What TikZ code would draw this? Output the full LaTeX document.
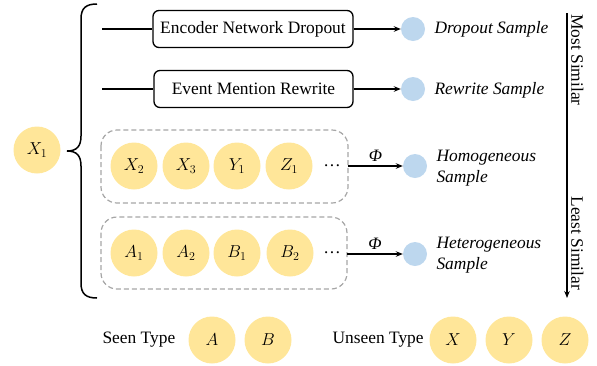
\documentclass[tikz,border=0pt]{standalone}
\usepackage{fontspec}
\setmainfont{Liberation Serif}
\usetikzlibrary{arrows.meta}
\definecolor{ycirc}{HTML}{FFE699}
\definecolor{bcirc}{HTML}{BDD7EE}
\definecolor{dgray}{HTML}{A6A6A6}
\begin{document}
\begin{tikzpicture}[x=1pt,y=-1pt,
  font=\fontsize{17.4}{21.5}\selectfont,
  ycn/.style={circle,fill=ycirc,minimum size=47pt,inner sep=0pt},
  bcn/.style={circle,fill=bcirc,minimum size=24pt,inner sep=0pt},
  opbox/.style={draw,line width=1.3pt,rounded corners=6pt,minimum height=37pt,inner sep=0pt},
  grp/.style={draw=dgray,dashed,line width=1.2pt,dash pattern=on 5pt off 3pt,rounded corners=16pt},
  arr/.style={-{Stealth[length=7pt,width=5.5pt]},line width=1.3pt},
  samp/.style={anchor=west,font=\fontsize{17.4}{21.5}\selectfont\itshape,align=left},
  philab/.style={above=1pt,font=\fontsize{17.4}{21.5}\selectfont\itshape},
  lab/.style={anchor=west}]
\useasboundingbox (0,0) rectangle (597,365);
% X1
\node[ycn] (x1) at (37,150) {$X_1$};
% brace
\draw[line width=1.5pt] (97,4) .. controls (86,4) and (81,8) .. (81,19) -- (81,136)
  .. controls (81,146) and (77,151) .. (67,151)
  .. controls (77,151) and (81,156) .. (81,166) -- (81,283)
  .. controls (81,294) and (86,298) .. (97,298);
% row 1
\coordinate (s1) at (102,29);
\node[opbox,minimum width=200pt] (enc) at (253,29) {Encoder Network Dropout};
\node[bcn] (b1) at (413,29) {};
\node[samp] (t1) at (431,29) {Dropout Sample};
\draw[line width=1.3pt] (s1) -- (enc.west);
\draw[arr] (enc.east) -- (b1.west);
% row 2
\coordinate (s2) at (102,89);
\node[opbox,minimum width=199pt] (rew) at (253.5,89) {Event Mention Rewrite};
\node[bcn] (b2) at (413,89) {};
\node[samp] (t2) at (431,90) {Rewrite Sample};
\draw[line width=1.3pt] (s2) -- (rew.west);
\draw[arr] (rew.east) -- (b2.west);
% group 1
\draw[grp] (101,130) rectangle (348,203);
\coordinate (g1e) at (348,166);
\node[ycn] (x2) at (134,166) {$X_2$};
\node[ycn] (x3) at (186,166) {$X_3$};
\node[ycn] (y1) at (237,166) {$Y_1$};
\node[ycn] (z1) at (289,166) {$Z_1$};
\node (d1) at (332,166) {\dots};
\node[bcn] (b3) at (415,166) {};
\node[samp] (t3) at (433,168) {Homogeneous\\Sample};
\draw[arr] (g1e) -- node[philab] {Φ} (b3.west);
% group 2
\draw[grp] (101,217) rectangle (347,289);
\coordinate (g2e) at (347,254);
\node[ycn] (a1) at (134,253) {$A_1$};
\node[ycn] (a2) at (186,253) {$A_2$};
\node[ycn] (bb1) at (237,253) {$B_1$};
\node[ycn] (bb2) at (290,253) {$B_2$};
\node (d2) at (332,253) {\dots};
\node[bcn] (b4) at (415,254) {};
\node[samp] (t4) at (433,255) {Heterogeneous\\Sample};
\draw[arr] (g2e) -- node[philab] {Φ} (b4.west);
% similarity axis
\coordinate (ax1) at (567,13);
\coordinate (ax2) at (567,298);
\draw[arr] (ax1) -- (ax2);
\node[rotate=-90,anchor=south west,inner sep=2pt] (ms) at (569,12) {Most Similar};
\node[rotate=-90,anchor=south east,inner sep=2pt] (ls) at (569,292) {Least Similar};
% legend
\node[lab] (seen) at (99,340) {Seen Type};
\node[ycn] (la) at (212,340) {$A$};
\node[ycn] (lb) at (268,340) {$B$};
\node[lab] (unseen) at (329,340) {Unseen Type};
\node[ycn] (lx) at (453,340) {$X$};
\node[ycn] (ly) at (509,340) {$Y$};
\node[ycn] (lz) at (565,340) {$Z$};
\end{tikzpicture}
\end{document}
